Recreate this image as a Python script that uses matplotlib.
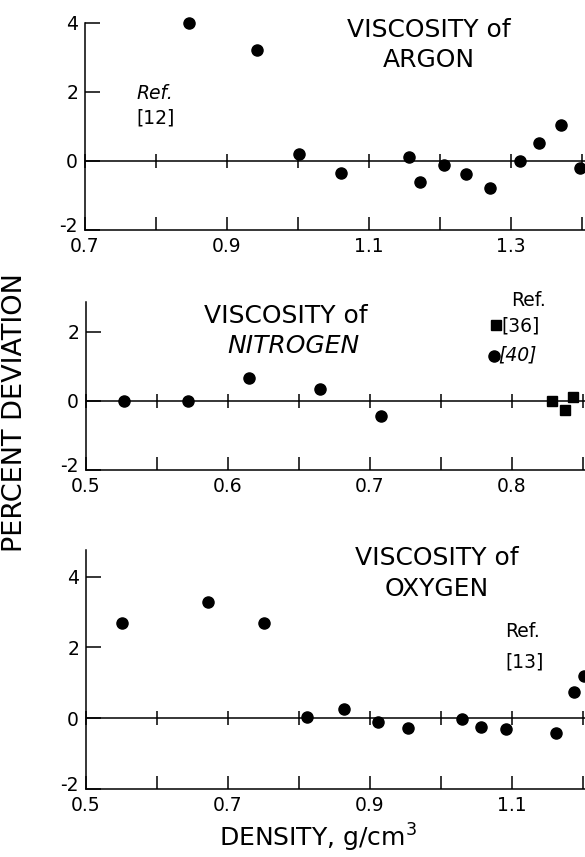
import matplotlib
matplotlib.use('Agg')
import matplotlib.pyplot as plt
import matplotlib.transforms as mtransforms
import numpy as np

# ---------------------------------------------------------------
# DATA  (density g/cm3, percent deviation)
# ---------------------------------------------------------------
argon_rho = [0.846, 0.942, 1.002, 1.061, 1.157, 1.172, 1.205, 1.237,
             1.271, 1.312, 1.340, 1.370, 1.397]
argon_dev = [4.0, 3.2, 0.2, -0.34, 0.1, -0.6, -0.13, -0.39,
             -0.77, 0.0, 0.51, 1.03, -0.21]

n2_rho_40 = [0.527, 0.572, 0.615, 0.665, 0.7075]
n2_dev_40 = [0.0, 0.0, 0.66, 0.35, -0.44]
n2_rho_36 = [0.828, 0.8375, 0.8433]
n2_dev_36 = [0.0, -0.27, 0.11]

o2_rho = [0.550, 0.672, 0.750, 0.811, 0.863, 0.911, 0.953, 1.029,
          1.057, 1.091, 1.162, 1.188, 1.201]
o2_dev = [2.70, 3.30, 2.70, 0.02, 0.25, -0.10, -0.27, -0.03,
          -0.24, -0.31, -0.42, 0.73, 1.20]

argon_ticks = [0.7, 0.8, 0.9, 1.0, 1.1, 1.2, 1.3, 1.4]
argon_labels = ['0.7', '', '0.9', '', '1.1', '', '1.3', '']
n2_ticks = [0.5, 0.55, 0.6, 0.65, 0.7, 0.75, 0.8, 0.85]
n2_labels = ['0.5', '', '0.6', '', '0.7', '', '0.8', '']
o2_ticks = [0.5, 0.6, 0.7, 0.8, 0.9, 1.0, 1.1, 1.2]
o2_labels = ['0.5', '', '0.7', '', '0.9', '', '1.1', '']

# ---------------------------------------------------------------
# TUVAL
# ---------------------------------------------------------------
plt.rcParams['font.family'] = ['DejaVu Sans']
W, H = 585, 857
fig = plt.figure(figsize=(W / 100, H / 100), dpi=100)
fig.patch.set_facecolor('white')

LW = 1.1
TFS = 13.5   # tick label size
HFS = 18     # panel title size


def panel(rect, xlim, ylim, ticks, labels, yticks):
    ax = fig.add_axes(rect)
    ax.set_xlim(*xlim)
    ax.set_ylim(*ylim)
    for s in ('top', 'right'):
        ax.spines[s].set_visible(False)
    for s in ('left', 'bottom'):
        ax.spines[s].set_linewidth(LW)
    ax.set_xticks(ticks)
    ax.set_xticklabels(labels)
    ax.set_yticks(yticks)
    ax.set_yticklabels([f'{v:g}' for v in yticks])
    ax.tick_params(axis='x', direction='in', length=9.5, width=LW,
                   labelsize=TFS, pad=5)
    ax.tick_params(axis='y', direction='in', length=10.5, width=LW,
                   labelsize=TFS, pad=5)
    # "-2" etiketi biraz yukari: alttaki x etiketine degmesin
    lab = ax.get_yticklabels()[0]
    lab.set_transform(lab.get_transform() +
                      mtransforms.ScaledTranslation(0, 4 / 72, fig.dpi_scale_trans))
    ax.axhline(0, color='black', lw=LW, zorder=1)
    ax.plot(ticks, np.zeros(len(ticks)), '|', color='black', ms=10,
            mew=LW, clip_on=False, zorder=1)
    return ax


# ---------------------------------------------------------------
# ARGON
# ---------------------------------------------------------------
ax1 = panel([85 / W, 1 - 230 / H, 500 / W, 207.3 / H],
            (0.7, 1.4042), (-2, 4), argon_ticks, argon_labels, [-2, 0, 2, 4])
ax1.plot(argon_rho, argon_dev, 'o', color='black', ms=8, clip_on=False, zorder=3)
ax1.text(1.1845, 3.80, 'VISCOSITY of', ha='center', va='center', fontsize=HFS)
ax1.text(1.1845, 2.93, 'ARGON', ha='center', va='center', fontsize=HFS)
ax1.text(0.772, 1.95, 'Ref.', ha='left', va='center', fontsize=TFS, style='italic')
ax1.text(0.772, 1.24, '[12]', ha='left', va='center', fontsize=TFS)

# ---------------------------------------------------------------
# NITROGEN
# ---------------------------------------------------------------
ax2 = panel([86 / W, 1 - 470 / H, 499 / W, 168.3 / H],
            (0.5, 0.8514), (-2, 2.87), n2_ticks, n2_labels, [-2, 0, 2])
ax2.plot(n2_rho_40, n2_dev_40, 'o', color='black', ms=8, clip_on=False, zorder=3)
ax2.plot(n2_rho_36, n2_dev_36, 's', color='black', ms=7.5, clip_on=False, zorder=3)
ax2.text(0.6406, 2.47, 'VISCOSITY of', ha='center', va='center', fontsize=HFS)
ax2.text(0.6458, 1.58, 'NITROGEN', ha='center', va='center', fontsize=HFS,
         style='italic')
ax2.text(0.8113, 2.91, 'Ref.', ha='center', va='center', fontsize=TFS,
         clip_on=False)
ax2.plot([0.7884], [2.21], 's', color='black', ms=7.5, clip_on=False)
ax2.text(0.7925, 2.18, '[36]', ha='left', va='center', fontsize=TFS)
ax2.plot([0.7871], [1.30], 'o', color='black', ms=8, clip_on=False)
ax2.text(0.7905, 1.33, '[40]', ha='left', va='center', fontsize=TFS,
         style='italic')

# ---------------------------------------------------------------
# OXYGEN
# ---------------------------------------------------------------
ax3 = panel([86 / W, 1 - 788.7 / H, 499 / W, 238.7 / H],
            (0.5, 1.2028), (-2, 4.76), o2_ticks, o2_labels, [-2, 0, 2, 4])
ax3.plot(o2_rho, o2_dev, 'o', color='black', ms=8, clip_on=False, zorder=3)
ax3.text(0.9944, 4.54, 'VISCOSITY of', ha='center', va='center', fontsize=HFS)
ax3.text(0.9944, 3.66, 'OXYGEN', ha='center', va='center', fontsize=HFS)
ax3.text(1.090, 2.44, 'Ref.', ha='left', va='center', fontsize=TFS)
ax3.text(1.090, 1.59, '[13]', ha='left', va='center', fontsize=TFS)

# ---------------------------------------------------------------
# EKSEN YAZILARI
# ---------------------------------------------------------------
fig.text(15 / W, 1 - 413 / H, 'PERCENT DEVIATION', rotation=90,
         ha='center', va='center', fontsize=19.5)
fig.text(318 / W, 3 / H, 'DENSITY, g/cm$^3$', ha='center',
         va='bottom', fontsize=18)

fig.savefig('out.png', dpi=100, facecolor='white')
